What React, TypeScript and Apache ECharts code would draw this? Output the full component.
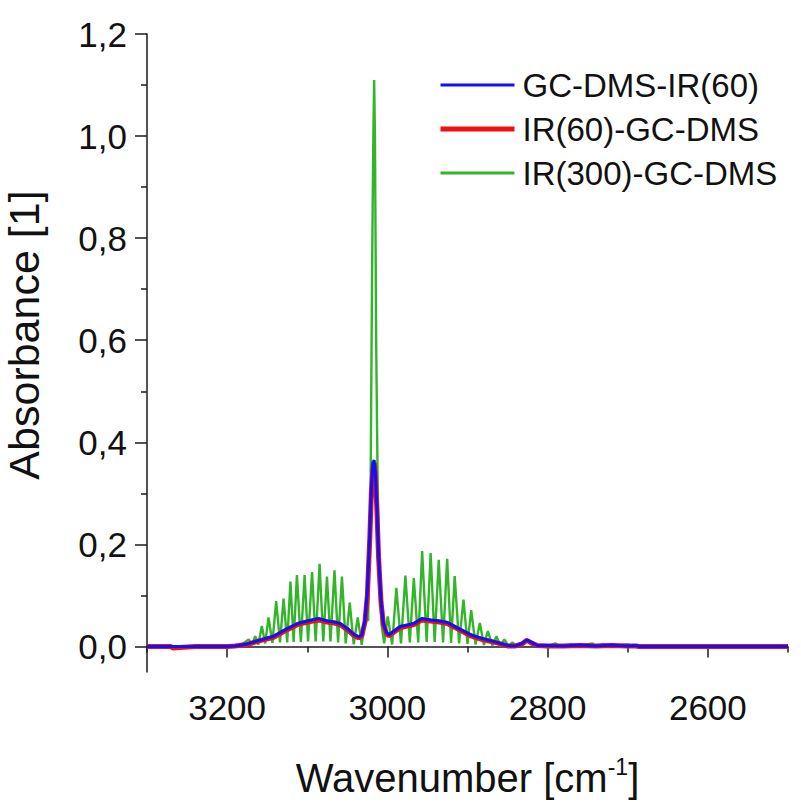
import React, { useEffect, useRef } from "react";
import * as echarts from "echarts";

// ---- data (wavenumber in cm-1, absorbance) ----
const blueWn = [3300, 3269, 3240, 3200, 3190, 3175, 3160, 3142, 3125, 3112, 3100, 3086, 3075, 3066, 3059, 3050, 3042, 3036, 3032, 3028, 3025, 3022, 3020, 3018, 3016.5, 3015, 3013, 3011, 3008, 3005, 3001, 2998, 2992, 2984, 2975, 2967, 2957, 2946, 2935, 2925, 2913, 2896, 2880, 2863, 2850, 2840, 2832, 2826, 2820, 2813, 2800, 2780, 2760, 2740, 2720, 2700, 2690, 2686, 2600, 2500];
const blueAbs = [0, 0, 0, 0, 0.001, 0.005, 0.012, 0.02, 0.035, 0.045, 0.05, 0.055, 0.05, 0.048, 0.045, 0.035, 0.024, 0.019, 0.022, 0.05, 0.11, 0.22, 0.31, 0.36, 0.365, 0.34, 0.27, 0.18, 0.09, 0.045, 0.027, 0.023, 0.03, 0.039, 0.042, 0.045, 0.055, 0.052, 0.05, 0.047, 0.037, 0.023, 0.015, 0.008, 0.002, 0.001, 0.006, 0.013, 0.008, 0.002, 0.002, 0.001, 0.003, 0.001, 0.003, 0.001, 0.002, 0, 0, 0];

const redWn = [3300, 3270, 3268, 3240, 3200, 3190, 3175, 3160, 3142, 3125, 3112, 3100, 3086, 3075, 3066, 3059, 3050, 3042, 3036, 3032, 3028, 3025, 3022, 3020, 3018, 3016.5, 3015, 3013, 3011, 3008, 3005, 3001, 2998, 2992, 2984, 2975, 2967, 2957, 2946, 2935, 2925, 2913, 2896, 2880, 2863, 2850, 2840, 2832, 2826, 2820, 2813, 2800, 2780, 2760, 2740, 2720, 2700, 2690, 2686, 2600, 2500];
const redAbs = [0, 0, -0.003, 0, 0, 0.001, 0.004, 0.011, 0.018, 0.033, 0.043, 0.048, 0.052, 0.048, 0.046, 0.043, 0.033, 0.022, 0.017, 0.02, 0.048, 0.1, 0.21, 0.3, 0.35, 0.36, 0.335, 0.265, 0.175, 0.088, 0.043, 0.025, 0.021, 0.028, 0.037, 0.04, 0.043, 0.052, 0.05, 0.048, 0.045, 0.035, 0.021, 0.013, 0.007, 0.001, 0.001, 0.005, 0.012, 0.007, 0.002, 0.001, 0.001, 0.002, 0.001, 0.002, 0.001, 0.001, 0, 0, 0];

const greenWn = [3300, 3250, 3200, 3185, 3178, 3173, 3169, 3165, 3161, 3156.7, 3152.5, 3148.3, 3143.5, 3138.8, 3134, 3129.6, 3125, 3121, 3117, 3112.9, 3108, 3103.3, 3099, 3094, 3089.5, 3084.6, 3080, 3075.4, 3071, 3066, 3061.5, 3056.7, 3052, 3047, 3042, 3037, 3032, 3027.5, 3024, 3021, 3019, 3017.5, 3016.5, 3015.5, 3014, 3012, 3010, 3007, 3004, 2999.6, 2994, 2988.8, 2983, 2977.5, 2972, 2967, 2961.5, 2956.6, 2951, 2946, 2941, 2935.9, 2930.5, 2925.4, 2920.5, 2916, 2910.5, 2905, 2900, 2895.4, 2890, 2884.6, 2879.5, 2874.6, 2869, 2863.8, 2859, 2854, 2849, 2844, 2839, 2834, 2828, 2825, 2821, 2815, 2800, 2790, 2786, 2770, 2765, 2744, 2740, 2730, 2725, 2700, 2695, 2690, 2686, 2600, 2500];
const greenAbs = [0, 0, 0, 0.002, 0.008, 0.014, 0.003, 0.02, 0.004, 0.04, 0.006, 0.057, 0.007, 0.089, 0.008, 0.094, 0.008, 0.127, 0.009, 0.14, 0.009, 0.14, 0.01, 0.146, 0.01, 0.162, 0.01, 0.137, 0.01, 0.149, 0.008, 0.137, 0.006, 0.086, 0.004, 0.057, 0.003, 0.059, 0.05, 0.3, 0.75, 1.0, 1.11, 1.0, 0.6, 0.3, 0.12, 0.04, 0.006, 0.059, 0.004, 0.115, 0.006, 0.139, 0.008, 0.134, 0.008, 0.187, 0.009, 0.183, 0.009, 0.17, 0.008, 0.172, 0.007, 0.138, 0.006, 0.092, 0.005, 0.071, 0.004, 0.046, 0.003, 0.03, 0.002, 0.02, 0.001, 0.014, 0.001, 0.008, 0.001, 0.005, 0.008, 0.012, 0.004, 0.002, 0.001, 0.006, 0.001, 0.004, 0, 0.006, 0, 0.005, 0, 0.004, 0, 0.003, 0, 0, 0];

const seriesNames = ["GC-DMS-IR(60)", "IR(60)-GC-DMS", "IR(300)-GC-DMS"];
const xLabelValues = [2600, 2800, 3000, 3200];
const xMinorTickValues = [2500, 2700, 2900, 3100, 3300];
const yLabelValues = [0, 0.2, 0.4, 0.6, 0.8, 1.0, 1.2];
const yMinorTickValues = [0.1, 0.3, 0.5, 0.7, 0.9, 1.1];

const zip = (xs: number[], ys: number[]) => xs.map((x, i) => [x, ys[i]]);

const FONT = "Liberation Sans, Arial, sans-serif";
const AXIS_COLOR = "#1a1a1a";
const BLUE = "#1010ff";
const RED = "#ee1111";
const GREEN = "#33b52a";

export default function App() {
  const ref = useRef<HTMLDivElement>(null);
  useEffect(() => {
    document.body.style.margin = "0";
    const chart = echarts.init(ref.current!, undefined, { renderer: "svg" });
    const common = { min: 2500, max: 3300, inverse: true, type: "value" as const };
    chart.setOption({
      animation: false,
      backgroundColor: "#ffffff",
      textStyle: { fontFamily: FONT },
      grid: { left: 147, right: 13, top: 34, bottom: 130, containLabel: false, outerBoundsMode: "none" },
      legend: {
        orient: "vertical",
        left: 433,
        top: 60,
        data: [
          { name: seriesNames[0], lineStyle: { color: BLUE, width: 3 } },
          { name: seriesNames[1], lineStyle: { color: RED, width: 5 } },
          { name: seriesNames[2], lineStyle: { color: GREEN, width: 3 } },
        ],
        itemWidth: 74,
        itemHeight: 14,
        itemGap: 4,
        itemStyle: { opacity: 0 },
        textStyle: { fontSize: 33, color: "#111", fontFamily: FONT, lineHeight: 40, padding: [0, 0, 0, 3] },
      },
      xAxis: [
        {
          ...common,
          position: "bottom",
          name: "{a|Wavenumber [cm}{s|-1}{a|]}",
          nameLocation: "middle",
          nameGap: 80,
          nameTextStyle: {
            rich: {
              a: { fontSize: 40, fontFamily: FONT, color: "#111", lineHeight: 46, verticalAlign: "bottom" },
              s: { fontSize: 23, fontFamily: FONT, color: "#111", lineHeight: 46, verticalAlign: "top", padding: [3, 0, 0, 0] },
            },
          },
          axisLine: { show: true, lineStyle: { color: AXIS_COLOR, width: 1.5 } },
          axisTick: { show: true, length: 11, customValues: xLabelValues, lineStyle: { color: AXIS_COLOR, width: 1.5 } },
          axisLabel: {
            customValues: xLabelValues,
            fontSize: 35,
            color: "#111",
            margin: 18,
            fontFamily: FONT,
            formatter: (v: number) => String(v),
          },
          splitLine: { show: false },
        },
        {
          ...common,
          position: "bottom",
          gridIndex: 0,
          axisLine: { show: false },
          axisTick: { show: true, length: 6, customValues: xMinorTickValues, lineStyle: { color: AXIS_COLOR, width: 1.5 } },
          axisLabel: { show: false },
          splitLine: { show: false },
        },
      ],
      yAxis: [
        {
          type: "value",
          min: -0.05,
          max: 1.2,
          position: "left",
          name: "Absorbance [1]",
          nameLocation: "middle",
          nameRotate: 90,
          nameGap: 102,
          nameTextStyle: { fontSize: 43, color: "#111", fontFamily: FONT, padding: [0, 0, 0, 36] },
          axisLine: { show: true, lineStyle: { color: AXIS_COLOR, width: 1.5 } },
          axisTick: { show: true, length: 12, customValues: yLabelValues, lineStyle: { color: AXIS_COLOR, width: 1.5 } },
          axisLabel: {
            customValues: yLabelValues,
            fontSize: 35,
            color: "#111",
            margin: 20,
            fontFamily: FONT,
            formatter: (v: number) => v.toFixed(1).replace(".", ","),
          },
          splitLine: { show: false },
        },
        {
          type: "value",
          min: -0.05,
          max: 1.2,
          position: "left",
          axisLine: { show: false },
          axisTick: { show: true, length: 6, customValues: yMinorTickValues, lineStyle: { color: AXIS_COLOR, width: 1.5 } },
          axisLabel: { show: false },
          splitLine: { show: false },
        },
      ],
      series: [
        {
          name: seriesNames[2],
          type: "line",
          data: zip(greenWn, greenAbs),
          showSymbol: false,
          symbol: "none",
          lineStyle: { color: GREEN, width: 2.4 },
          itemStyle: { color: GREEN },
          z: 2,
        },
        {
          name: seriesNames[1],
          type: "line",
          data: zip(redWn, redAbs),
          showSymbol: false,
          symbol: "none",
          lineStyle: { color: RED, width: 5 },
          itemStyle: { color: RED },
          z: 3,
        },
        {
          name: seriesNames[0],
          type: "line",
          data: zip(blueWn, blueAbs),
          showSymbol: false,
          symbol: "none",
          lineStyle: { color: BLUE, width: 3 },
          itemStyle: { color: BLUE },
          z: 4,
        },
      ],
    });
    return () => chart.dispose();
  }, []);
  return <div ref={ref} style={{ width: 801, height: 802 }} />;
}
